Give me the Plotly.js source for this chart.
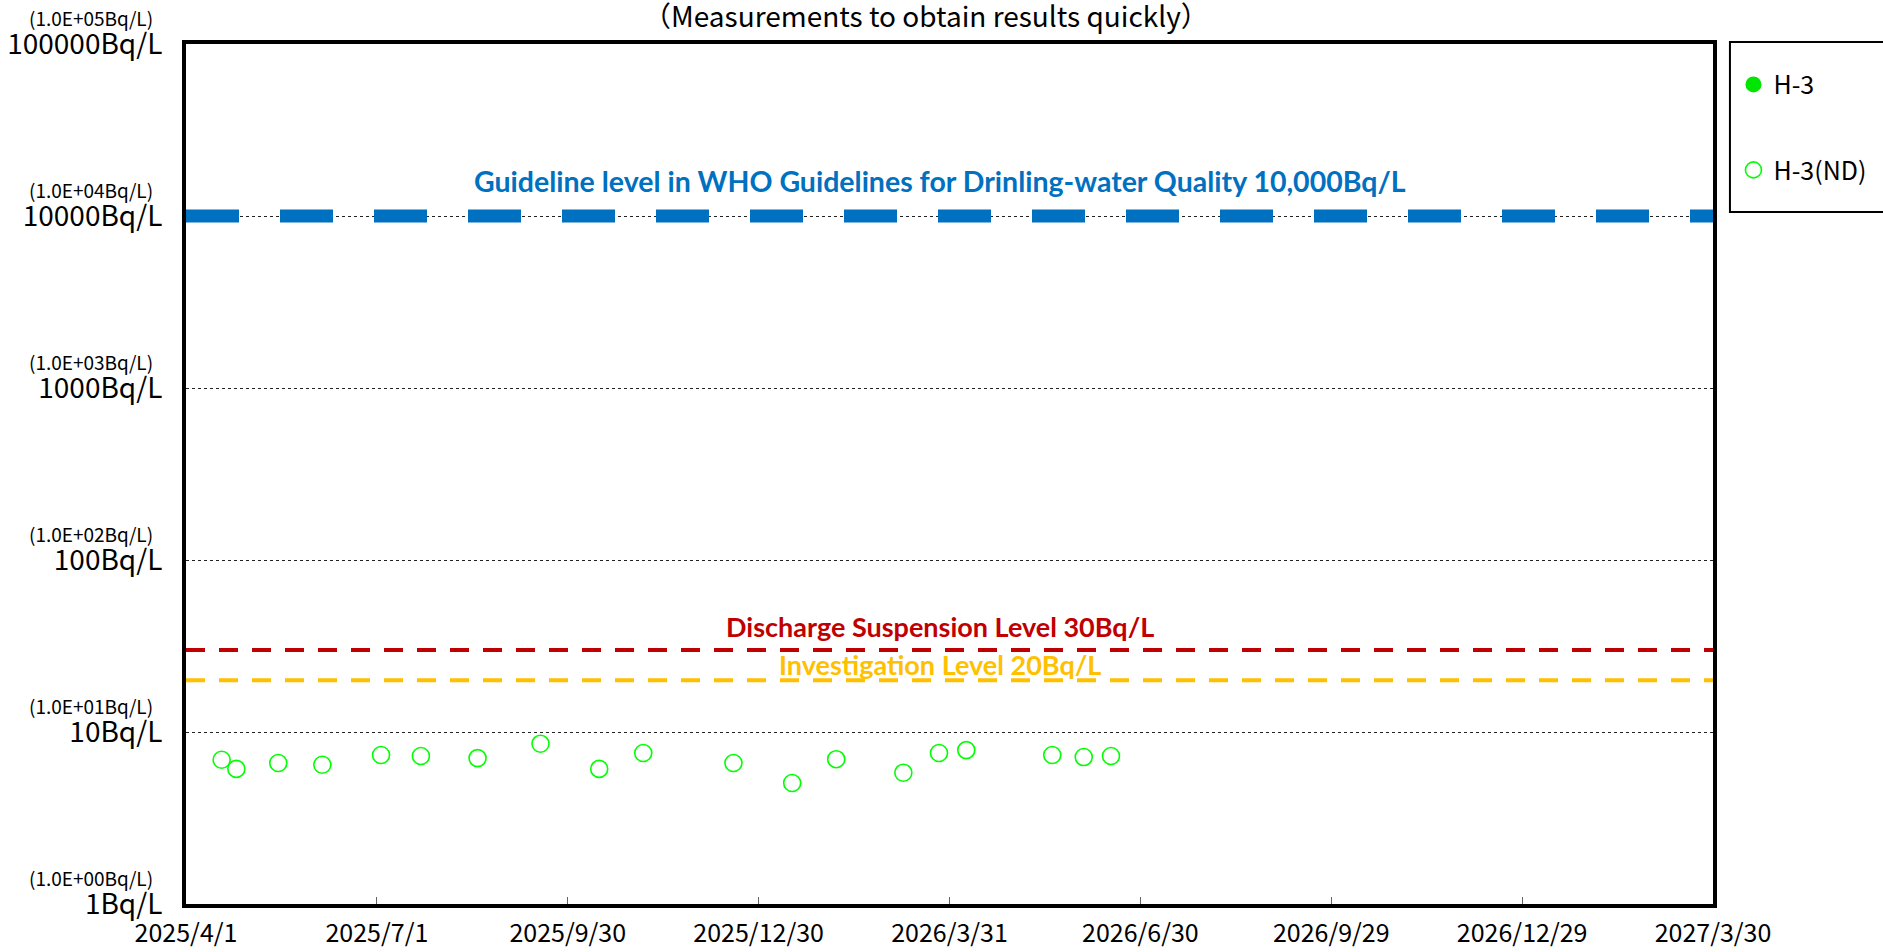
<!DOCTYPE html>
<html><head><meta charset="utf-8">
<script src="https://cdn.plot.ly/plotly-3.0.1.min.js"></script>
<style>html,body{margin:0;padding:0;background:#fff;overflow:hidden;}</style>
</head><body><div id="chart" style="width:1883px;height:952px;"></div>
<script>
// ---- data ----
const ndDates = ['2025-04-18','2025-04-25','2025-05-15','2025-06-05','2025-07-03','2025-07-22','2025-08-18','2025-09-17','2025-10-15','2025-11-05','2025-12-18','2026-01-15','2026-02-05','2026-03-09','2026-03-26','2026-04-08','2026-05-19','2026-06-03','2026-06-16'];
const ndValues = [6.9,6.1,6.6,6.45,7.35,7.25,7.05,8.55,6.1,7.55,6.6,5.05,6.95,5.8,7.55,7.85,7.35,7.15,7.25];
const detDates = [null];
const detValues = [null];
const xRange = ['2025-04-01','2027-03-30'];
const xTickVals = ['2025-04-01','2025-07-01','2025-09-30','2025-12-30','2026-03-31','2026-06-30','2026-09-29','2026-12-29','2027-03-30'];
const xTickText = ['2025/4/1','2025/7/1','2025/9/30','2025/12/30','2026/3/31','2026/6/30','2026/9/29','2026/12/29','2027/3/30'];
const yTickVals = [1,10,100,1000,10000,100000];
const yTickText = ['1Bq/L','10Bq/L','100Bq/L','1000Bq/L','10000Bq/L','100000Bq/L'];
const yExpText = ['(1.0E+00Bq/L)','(1.0E+01Bq/L)','(1.0E+02Bq/L)','(1.0E+03Bq/L)','(1.0E+04Bq/L)','(1.0E+05Bq/L)'];
const guidelineLevel = 10000;
const suspensionLevel = 30;
const investigationLevel = 20;
const guidelineText = 'Guideline level in WHO Guidelines for Drinling-water Quality 10,000Bq/L';
const suspensionText = 'Discharge Suspension Level 30Bq/L';
const investigationText = 'Investigation Level 20Bq/L';
const titleText = '（Measurements to obtain results quickly）';

const JP = '"Noto Sans CJK JP", "Noto Sans", sans-serif';
const LB = 'Lato, "Open Sans", sans-serif';

const traces = [
  {x: detDates, y: detValues, name: 'H-3', type: 'scatter', mode: 'markers',
   legendgroup: 'a', marker: {symbol: 'circle', size: 16, color: '#00E600', line: {width: 0}}},
  {x: ndDates, y: ndValues, name: 'H-3(ND)', type: 'scatter', mode: 'markers',
   legendgroup: 'b', marker: {symbol: 'circle-open', size: 17, color: '#00FF00', line: {width: 1.6, color: '#00FF00'}}},
  {x: xRange, y: [guidelineLevel, guidelineLevel], mode: 'lines', showlegend: false, hoverinfo: 'skip',
   line: {color: '#0070C0', width: 13, dash: '53px,41px'}},
  {x: xRange, y: [suspensionLevel, suspensionLevel], mode: 'lines', showlegend: false, hoverinfo: 'skip',
   line: {color: '#C00000', width: 4, dash: '19px,14px'}},
  {x: xRange, y: [investigationLevel, investigationLevel], mode: 'lines', showlegend: false, hoverinfo: 'skip',
   line: {color: '#FFC000', width: 4, dash: '19px,14px'}}
];

const annotations = [];
yTickVals.forEach((v, i) => {
  annotations.push({xref: 'paper', x: 0, xshift: -31, xanchor: 'right', yref: 'y', y: Math.log10(v),
    yshift: 27, yanchor: 'middle', text: yExpText[i], showarrow: false, font: {family: JP, size: 19, color: '#000'}});
});
annotations.push({xref: 'paper', x: 0.4846, yref: 'paper', y: 1 + 29 / 860, xanchor: 'center', yanchor: 'middle',
  text: titleText, showarrow: false, font: {family: JP, size: 28, color: '#000'}});
annotations.push({xref: 'paper', x: 0.4938, yref: 'y', y: Math.log10(guidelineLevel), yshift: 35, yanchor: 'middle',
  text: '<b>' + guidelineText + '</b>', showarrow: false, font: {family: LB, size: 28.5, color: '#0070C0'}});
annotations.push({xref: 'paper', x: 0.4938, yref: 'y', y: Math.log10(suspensionLevel), yshift: 23, yanchor: 'middle',
  text: '<b>' + suspensionText + '</b>', showarrow: false, font: {family: LB, size: 27, color: '#C00000'}});
annotations.push({xref: 'paper', x: 0.4938, yref: 'y', y: Math.log10(investigationLevel), yshift: 16, yanchor: 'middle',
  text: '<b>' + investigationText + '</b>', showarrow: false, font: {family: LB, size: 27, color: '#FFC000'}});

const layout = {
  width: 1883, height: 952,
  margin: {l: 186, r: 170, t: 44, b: 48},
  paper_bgcolor: '#fff', plot_bgcolor: '#fff',
  font: {family: JP, color: '#000'},
  showlegend: true,
  legend: {x: 1.0134, xanchor: 'left', y: 0.9795, yanchor: 'top', bgcolor: 'rgba(0,0,0,0)', borderwidth: 0,
    font: {family: JP, size: 25, color: '#000'}, traceorder: 'grouped', tracegroupgap: 50, itemwidth: 30},
  xaxis: {type: 'date', range: xRange, tickvals: xTickVals, ticktext: xTickText, ticks: 'inside', ticklen: 7,
    tickwidth: 1, tickcolor: '#666', showline: true, linewidth: 4, linecolor: '#000', mirror: true,
    showgrid: false, zeroline: false, ticklabelstandoff: 4,
    tickfont: {family: JP, size: 25, color: '#000'}, fixedrange: true},
  yaxis: {type: 'log', range: [0, 5], tickvals: yTickVals, ticktext: yTickText, ticks: '',
    showline: true, linewidth: 4, linecolor: '#000', mirror: true, showgrid: true, gridcolor: '#222',
    griddash: 'dot', gridwidth: 1, zeroline: false, ticklabelstandoff: 14,
    tickfont: {family: JP, size: 28, color: '#000'}, fixedrange: true},
  shapes: [
    {type: 'rect', xref: 'paper', yref: 'paper', x0: 1.0111, x1: 1.2, y0: 1 - (212 - 44) / 860, y1: 1 + 2 / 860,
     line: {color: '#000', width: 2}, fillcolor: 'rgba(0,0,0,0)', layer: 'below'}
  ],
  annotations: annotations
};

Plotly.newPlot('chart', traces, layout, {displayModeBar: false, staticPlot: true});
</script>
</body></html>
